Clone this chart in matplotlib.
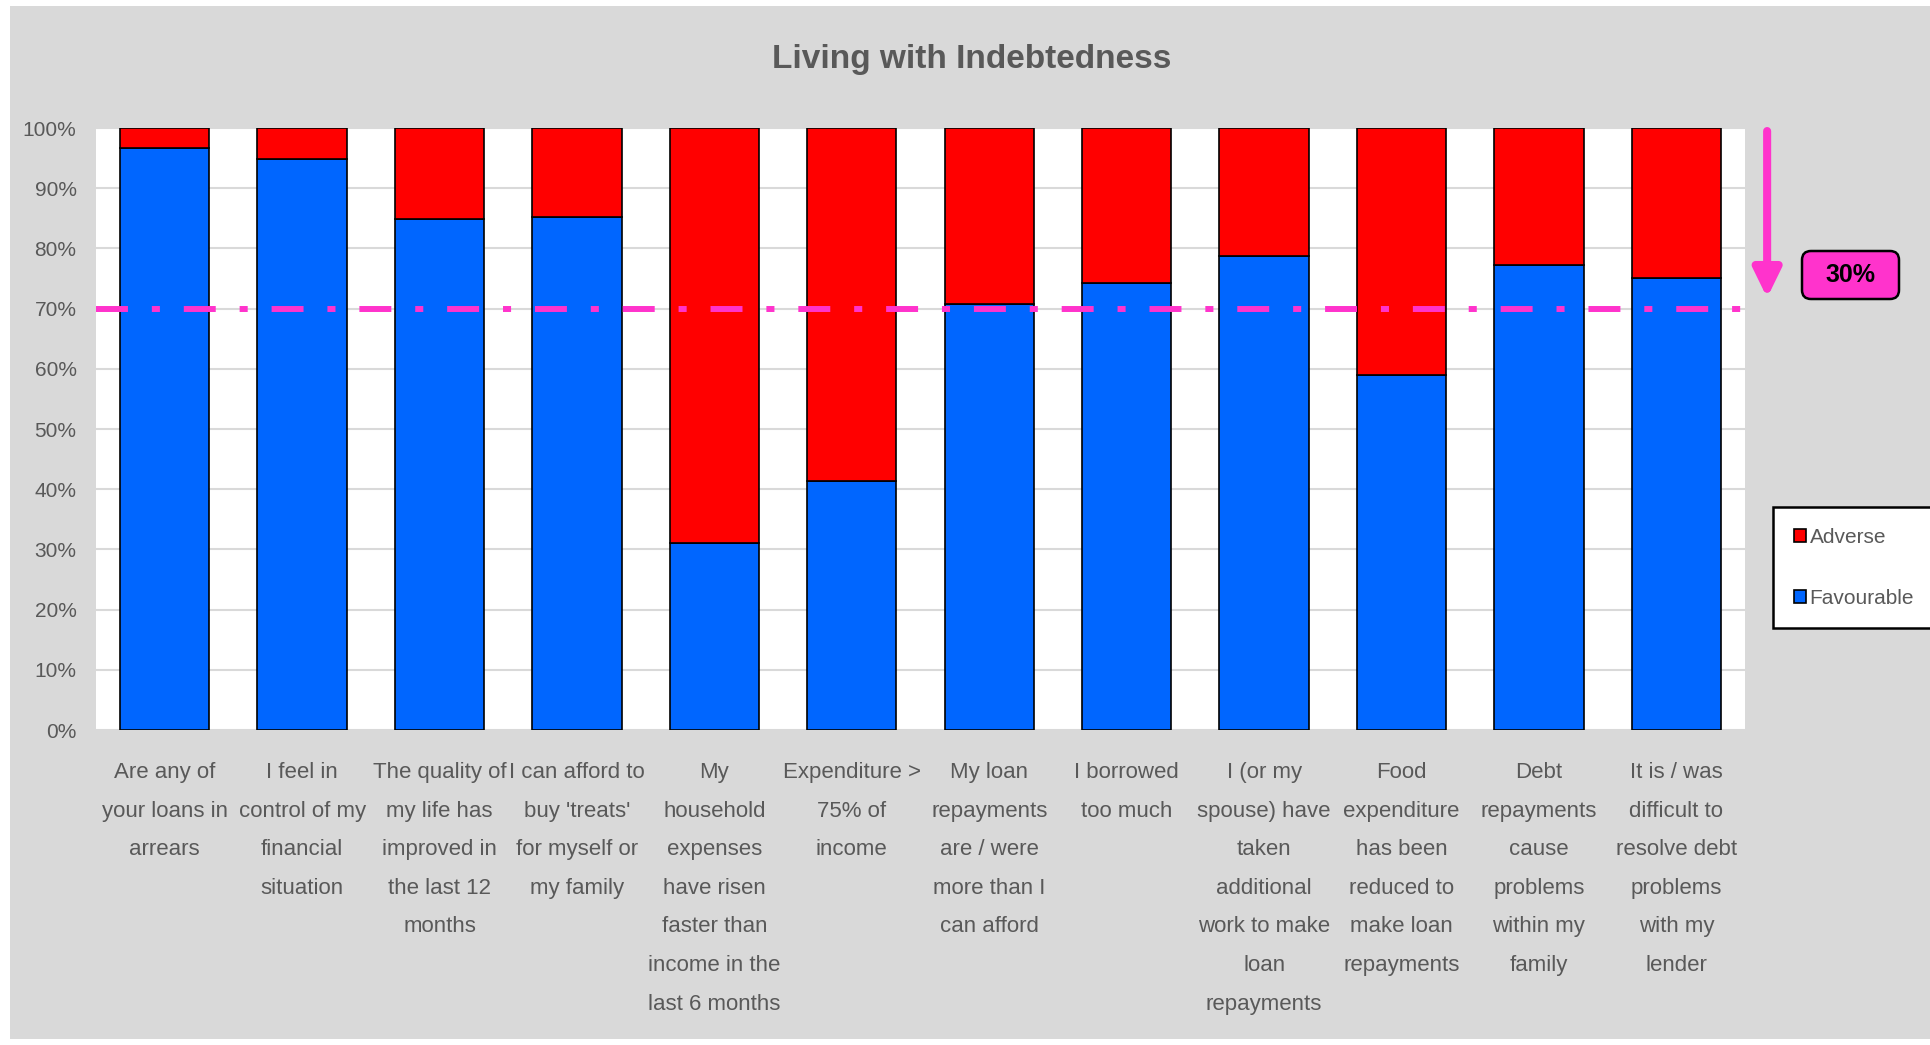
import matplotlib.pyplot as plt
import numpy as np
from matplotlib.patches import Rectangle, FancyBboxPatch
from matplotlib.transforms import blended_transform_factory, IdentityTransform

plt.rcParams['font.family'] = ['Liberation Sans', 'DejaVu Sans']

categories = [
    "Are any of\nyour loans in\narrears",
    "I feel in\ncontrol of my\nfinancial\nsituation",
    "The quality of\nmy life has\nimproved in\nthe last 12\nmonths",
    "I can afford to\nbuy 'treats'\nfor myself or\nmy family",
    "My\nhousehold\nexpenses\nhave risen\nfaster than\nincome in the\nlast 6 months",
    "Expenditure >\n75% of\nincome",
    "My loan\nrepayments\nare / were\nmore than I\ncan afford",
    "I borrowed\ntoo much",
    "I (or my\nspouse) have\ntaken\nadditional\nwork to make\nloan\nrepayments",
    "Food\nexpenditure\nhas been\nreduced to\nmake loan\nrepayments",
    "Debt\nrepayments\ncause\nproblems\nwithin my\nfamily",
    "It is / was\ndifficult to\nresolve debt\nproblems\nwith my\nlender",
]
favourable = [96.7, 94.9, 84.9, 85.3, 31.1, 41.3, 70.8, 74.2, 78.7, 58.9, 77.3, 75.1]
adverse = [3.3, 5.1, 15.1, 14.7, 68.9, 58.7, 29.2, 25.8, 21.3, 41.1, 22.7, 24.9]
threshold = 70
yticks = list(range(0, 101, 10))

grey_txt = '#595959'
pink = '#FF33CC'

fig = plt.figure(figsize=(19.31, 10.45), dpi=100)
fig.patch.set_facecolor('white')
fig.patches.append(Rectangle((10, 6), 1921, 1033, transform=IdentityTransform(),
                             facecolor='#D9D9D9', edgecolor='none', zorder=-10))

ax = fig.add_axes([0.0497, 0.3014, 0.854, 0.5761])
ax.set_facecolor('white')

x = np.arange(len(categories))
ax.bar(x, favourable, width=0.65, color='#0066FF', edgecolor='black', linewidth=1.2,
       label='Favourable', zorder=3)
ax.bar(x, adverse, width=0.65, bottom=favourable, color='#FF0000', edgecolor='black',
       linewidth=1.2, label='Adverse', zorder=3)

ax.axhline(threshold, color=pink, lw=4.3, linestyle=(0, (5.35, 4.0, 1.35, 4.0)),
           dash_capstyle='butt', zorder=4)

ax.set_xlim(-0.5, len(categories) - 0.5)
ax.set_ylim(0, 100)
ax.set_yticks(yticks)
ax.set_yticklabels([f'{v}%' for v in yticks])
ax.set_xticks(x)
ax.set_xticklabels(categories, linespacing=2.1)
ax.tick_params(axis='x', length=0, pad=23, labelsize=16, labelcolor=grey_txt)
ax.tick_params(axis='y', length=0, pad=14, labelsize=15, labelcolor=grey_txt)
ax.grid(axis='y', color='#D9D9D9', lw=1.5, zorder=0)
ax.set_axisbelow(True)
for s in ax.spines.values():
    s.set_visible(False)

fig.text(0.503, 0.943, 'Living with Indebtedness', ha='center', va='center',
         fontsize=24, fontweight='bold', color=grey_txt)

# arrow and 30% box on the right
tr = blended_transform_factory(ax.transAxes, ax.transData)
ax.annotate('', xy=(1.0134, 71.8), xytext=(1.0134, 99.5), xycoords=tr, textcoords=tr,
            arrowprops=dict(arrowstyle='-|>,head_length=17,head_width=8.3',
                            mutation_scale=1, lw=5.8, color=pink,
                            shrinkA=0, shrinkB=0), annotation_clip=False)
fig.patches.append(FancyBboxPatch((1802, 746), 97, 48, transform=IdentityTransform(),
                                  boxstyle='round,pad=0,rounding_size=9',
                                  facecolor=pink, edgecolor='black', lw=1.8, zorder=5))
fig.text(1850.5 / 1931, 770 / 1045, '30%', ha='center', va='center', fontsize=18,
         fontweight='bold', color='black', zorder=6)

handles, labels = ax.get_legend_handles_labels()
leg = fig.legend(handles[::-1], labels[::-1], loc='upper left',
                 bbox_to_anchor=(0.9182, 0.5148), fontsize=15, frameon=True,
                 fancybox=False, edgecolor='black', facecolor='white', framealpha=1,
                 handlelength=0.6, handleheight=0.6, handletextpad=0.15,
                 labelspacing=2.0, borderpad=1.0, borderaxespad=0)
leg.get_frame().set_linewidth(1.8)
for t in leg.get_texts():
    t.set_color(grey_txt)

fig.savefig('out.png', dpi=100)
